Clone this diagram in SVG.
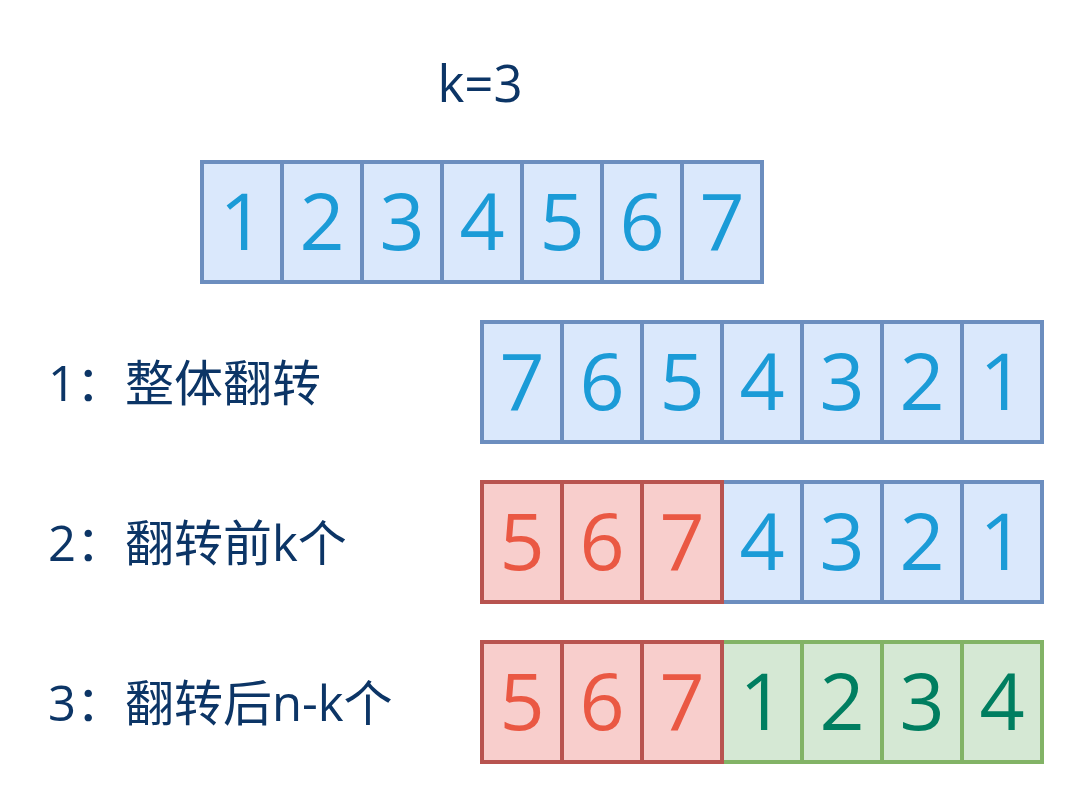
<svg xmlns="http://www.w3.org/2000/svg" width="1084" height="804" viewBox="0 0 1084 804">
<style>
.b{fill:#dae8fc;stroke:#6c8ebf;stroke-width:4}
.r{fill:#f8cecc;stroke:#b85450;stroke-width:4}
.g{fill:#d5e8d4;stroke:#82b366;stroke-width:4}
.d{font-family:"Open Sans","Noto Sans",sans-serif;font-size:79px;text-anchor:middle}
.tb{fill:#1b9bd7}
.tr{fill:#ea5843}
.tg{fill:#007e60}
.lbl{font-family:"Open Sans","Noto Sans CJK SC",sans-serif;font-size:49px;fill:#0c3566}
</style>
<rect width="1084" height="804" fill="#fff"/>
<g id="title"><text class="lbl" x="480" y="102" text-anchor="middle" style="font-size:51px">k=3</text></g>
<g id="row0">
<rect class="b" x="202" y="162" width="80" height="120"/><rect class="b" x="282" y="162" width="80" height="120"/><rect class="b" x="362" y="162" width="80" height="120"/><rect class="b" x="442" y="162" width="80" height="120"/><rect class="b" x="522" y="162" width="80" height="120"/><rect class="b" x="602" y="162" width="80" height="120"/><rect class="b" x="682" y="162" width="80" height="120"/>
<text class="d tb" x="242" y="250">1</text><text class="d tb" x="322" y="250">2</text><text class="d tb" x="402" y="250">3</text><text class="d tb" x="482" y="250">4</text><text class="d tb" x="562" y="250">5</text><text class="d tb" x="642" y="250">6</text><text class="d tb" x="722" y="250">7</text>
</g>
<g id="row1">
<text class="lbl" x="48" y="401">1：整体翻转</text>
<rect class="b" x="482" y="322" width="80" height="120"/><rect class="b" x="562" y="322" width="80" height="120"/><rect class="b" x="642" y="322" width="80" height="120"/><rect class="b" x="722" y="322" width="80" height="120"/><rect class="b" x="802" y="322" width="80" height="120"/><rect class="b" x="882" y="322" width="80" height="120"/><rect class="b" x="962" y="322" width="80" height="120"/>
<text class="d tb" x="522" y="410">7</text><text class="d tb" x="602" y="410">6</text><text class="d tb" x="682" y="410">5</text><text class="d tb" x="762" y="410">4</text><text class="d tb" x="842" y="410">3</text><text class="d tb" x="922" y="410">2</text><text class="d tb" x="1002" y="410">1</text>
</g>
<g id="row2">
<text class="lbl" x="48" y="561">2：翻转前k个</text>
<rect class="b" x="722" y="482" width="80" height="120"/><rect class="b" x="802" y="482" width="80" height="120"/><rect class="b" x="882" y="482" width="80" height="120"/><rect class="b" x="962" y="482" width="80" height="120"/>
<rect class="r" x="482" y="482" width="80" height="120"/><rect class="r" x="562" y="482" width="80" height="120"/><rect class="r" x="642" y="482" width="80" height="120"/>
<text class="d tr" x="522" y="570">5</text><text class="d tr" x="602" y="570">6</text><text class="d tr" x="682" y="570">7</text><text class="d tb" x="762" y="570">4</text><text class="d tb" x="842" y="570">3</text><text class="d tb" x="922" y="570">2</text><text class="d tb" x="1002" y="570">1</text>
</g>
<g id="row3">
<text class="lbl" x="48" y="721">3：翻转后n-k个</text>
<rect class="g" x="722" y="642" width="80" height="120"/><rect class="g" x="802" y="642" width="80" height="120"/><rect class="g" x="882" y="642" width="80" height="120"/><rect class="g" x="962" y="642" width="80" height="120"/>
<rect class="r" x="482" y="642" width="80" height="120"/><rect class="r" x="562" y="642" width="80" height="120"/><rect class="r" x="642" y="642" width="80" height="120"/>
<text class="d tr" x="522" y="730">5</text><text class="d tr" x="602" y="730">6</text><text class="d tr" x="682" y="730">7</text><text class="d tg" x="762" y="730">1</text><text class="d tg" x="842" y="730">2</text><text class="d tg" x="922" y="730">3</text><text class="d tg" x="1002" y="730">4</text>
</g>
<g id="connectors"/>
</svg>
